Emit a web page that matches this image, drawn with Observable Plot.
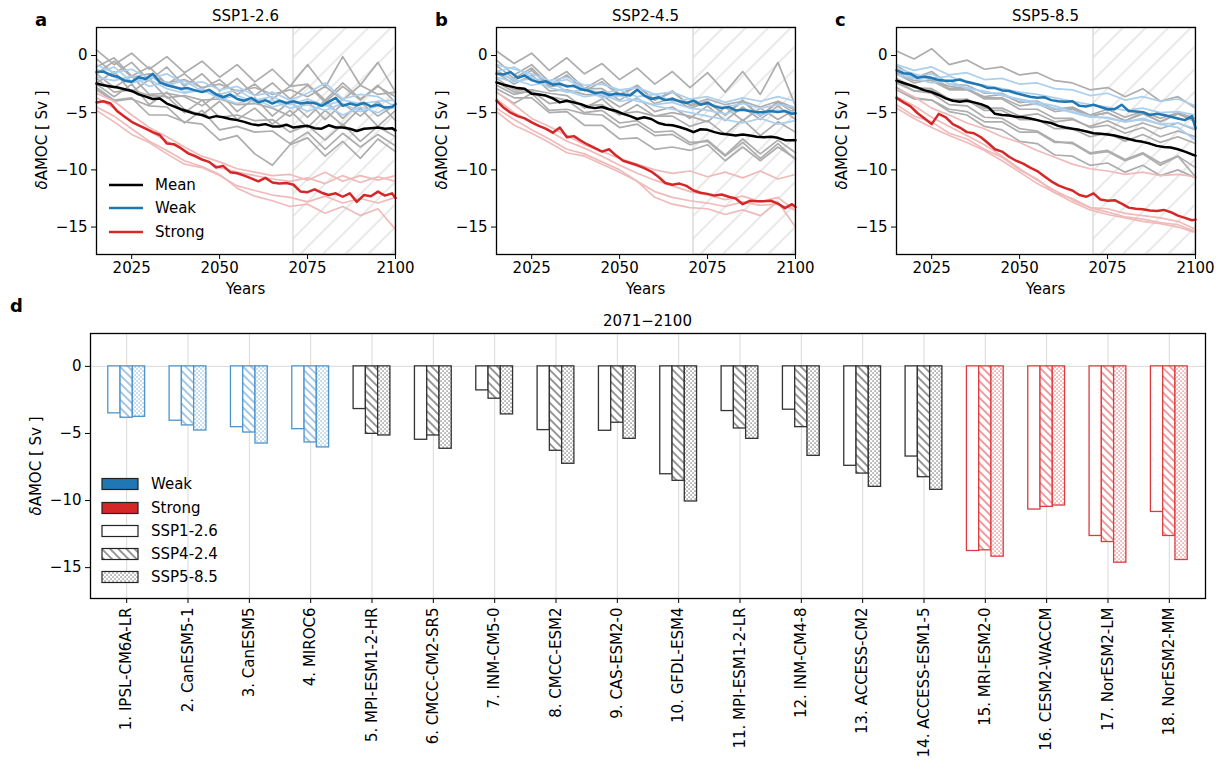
<!DOCTYPE html>
<html><head><meta charset="utf-8">
<script src="https://cdn.jsdelivr.net/npm/d3@7"></script>
<script src="https://cdn.jsdelivr.net/npm/@observablehq/plot@0.6"></script>
<style>
body{margin:0;background:#fff;}
#root{position:relative;width:1224px;height:769px;overflow:hidden;font-family:"DejaVu Sans",sans-serif;background:#fff;}
#root > div, #root > svg{position:absolute;}
</style></head><body><div id="root"></div>
<script>
// ---------------- DATA ----------------
const years5 = [2015,2020,2025,2030,2035,2040,2045,2050,2055,2060,2065,2070,2075,2080,2085,2090,2095,2100];
const years2 = [2015,2017,2019,2021,2023,2025,2027,2029,2031,2033,2035,
                2037,2039,2041,2043,2045,2047,2049,2051,2053,2055,2057,
                2059,2061,2063,2065,2067,2069,2071,2073,2075,2077,2079,
                2081,2083,2085,2087,2089,2091,2093,2095,2097,2099,2100];
const windowYears = [2071, 2100];
const scenarioTitles = ["SSP1-2.6", "SSP2-4.5", "SSP5-8.5"];
const panelLetters = ["a", "b", "c"];
const xTicksTop = [2025, 2050, 2075, 2100];
const yTicks = [0, -5, -10, -15];
const yDomainTop = [-17.4, 2.45];
const yDomainBar = [-17.3, 2.45];

// SSP1-2.6 individual models (5-year samples)
const ssp126Weak = [
  [-0.8,-1.5,-1.2,-2.0,-1.6,-2.5,-2.3,-3.0,-2.7,-3.5,-3.2,-3.9,-3.3,-2.4,-3.8,-3.4,-3.6,-4.5],
  [-1.5,-1.0,-2.3,-1.8,-2.6,-2.2,-3.1,-3.4,-3.0,-3.9,-3.6,-4.3,-3.8,-4.4,-3.9,-4.2,-4.0,-3.9],
  [-1.9,-2.2,-1.8,-2.7,-2.3,-3.2,-2.9,-3.8,-3.5,-4.1,-3.9,-4.6,-4.3,-4.8,-4.2,-4.9,-4.4,-4.6],
  [-1.2,-1.9,-2.4,-2.1,-2.9,-3.3,-3.0,-3.7,-4.2,-3.8,-4.5,-4.1,-4.9,-4.3,-5.2,-4.5,-5.0,-4.2]
];
const ssp126Other = [
  [-1.0,-0.2,-1.8,-1.0,-2.5,-1.6,-2.9,-2.1,-3.4,-2.5,-3.8,-2.7,-2.5,-3.9,-2.4,-3.8,-2.7,-3.6],
  [-2.5,-3.6,-2.5,-4.3,-3.2,-4.7,-5.2,-4.0,-5.6,-4.6,-6.0,-4.8,-6.3,-4.8,-6.1,-4.6,-6.2,-4.8],
  [0.5,-0.8,0.2,-1.2,-0.1,-1.5,-0.5,-1.9,-0.8,-2.3,-1.2,-2.7,-0.8,-2.8,-0.1,-2.6,-0.6,-3.2],
  [-1.6,-2.8,-1.8,-3.4,-3.3,-3.6,-4.4,-3.3,-4.9,-3.7,-5.3,-4.0,-5.4,-3.9,-5.5,-4.1,-5.3,-4.3],
  [-2.4,-1.4,-3.2,-2.1,-3.7,-3.5,-3.9,-3.8,-4.3,-4.2,-4.6,-5.3,-4.0,-5.6,-4.2,-5.3,-4.0,-5.7],
  [-2.8,-3.9,-3.7,-5.2,-5.2,-5.8,-6.0,-7.4,-7.0,-8.6,-9.6,-7.8,-7.2,-8.8,-7.5,-9.0,-7.3,-8.4],
  [-0.3,-1.6,-0.6,-2.2,-1.0,-2.7,-1.6,-3.1,-2.0,-3.5,-2.4,-3.8,-2.6,-4.1,-2.7,-3.9,-2.6,-4.1],
  [-1.6,-0.5,-1.9,-1.6,-2.4,-2.1,-2.8,-2.5,-3.1,-2.8,-3.4,-3.0,-3.6,-2.7,-3.9,-2.6,-3.4,-3.2],
  [-3.0,-4.0,-3.8,-4.4,-4.5,-5.9,-4.8,-6.5,-6.2,-6.7,-6.6,-7.7,-6.7,-8.2,-6.8,-8.0,-6.9,-7.9],
  [-2.0,-3.2,-3.0,-3.5,-3.6,-5.0,-3.9,-5.4,-5.2,-5.7,-5.6,-6.7,-6.1,-7.4,-6.0,-7.5,-6.2,-7.1]
];
const ssp126Strong = [
  [-4.5,-5.3,-6.4,-7.5,-8.3,-9.2,-9.7,-10.4,-11.6,-12.3,-12.7,-13.2,-13.0,-13.8,-13.2,-14.0,-13.4,-15.2],
  [-3.3,-4.0,-5.2,-6.3,-7.1,-8.0,-8.8,-9.3,-9.9,-10.2,-10.5,-10.4,-10.9,-10.2,-11.0,-10.5,-10.9,-10.5],
  [-4.8,-5.8,-6.9,-7.6,-8.6,-9.5,-9.8,-10.5,-11.4,-11.8,-12.2,-12.4,-12.8,-12.3,-12.9,-12.5,-12.9,-12.4],
  [-3.7,-4.6,-5.8,-6.6,-7.5,-8.3,-9.0,-9.8,-10.2,-10.5,-10.8,-11.0,-10.7,-11.2,-10.5,-11.1,-10.6,-11.0]
];
// SSP2-4.5
const ssp245Weak = [
  [-0.8,-1.2,-1.6,-2.2,-1.9,-2.6,-2.5,-3.0,-2.8,-3.4,-3.2,-3.8,-3.6,-4.1,-3.7,-4.0,-3.6,-4.0],
  [-1.4,-1.0,-1.9,-2.4,-2.1,-2.9,-3.3,-3.0,-3.6,-3.4,-4.0,-3.8,-4.3,-4.5,-4.2,-4.6,-4.3,-4.5],
  [-1.9,-2.3,-2.0,-2.8,-3.2,-3.0,-3.7,-3.5,-4.0,-4.3,-4.1,-4.6,-4.8,-5.1,-4.7,-5.2,-4.8,-5.0],
  [-1.5,-2.1,-2.6,-2.3,-3.1,-3.6,-3.4,-4.0,-3.8,-4.4,-4.7,-5.0,-5.3,-5.6,-5.9,-5.5,-6.0,-5.7]
];
const ssp245Other = [
  [-1.5,-2.5,-1.7,-3.1,-3.0,-3.4,-3.5,-4.5,-3.7,-4.9,-4.5,-5.5,-4.4,-5.7,-4.5,-5.6,-4.4,-5.6],
  [-2.6,-3.4,-3.1,-4.2,-4.0,-4.4,-4.3,-5.2,-4.3,-5.3,-5.0,-5.3,-5.8,-4.5,-5.7,-4.6,-5.6,-4.7],
  [0.4,-0.7,0.2,-1.3,-0.2,-1.6,-0.7,-2.1,-1.1,-2.5,-1.4,-2.8,-1.5,-3.2,-1.4,-3.4,-0.6,-4.4],
  [-2.0,-3.0,-3.0,-3.3,-3.5,-4.6,-3.8,-5.1,-4.9,-5.3,-5.3,-6.2,-5.7,-6.9,-5.6,-7.0,-5.8,-6.7],
  [-0.9,-2.0,-1.1,-2.6,-1.7,-3.1,-2.3,-3.5,-2.7,-3.9,-3.2,-4.3,-3.8,-4.3,-4.0,-4.5,-4.0,-4.6],
  [-2.9,-3.7,-3.7,-5.0,-4.9,-6.1,-6.1,-7.3,-7.2,-8.2,-8.0,-8.3,-7.8,-9.2,-8.0,-9.2,-8.0,-9.0],
  [-1.3,-2.2,-1.3,-2.7,-2.6,-2.9,-2.9,-3.9,-3.0,-4.2,-3.7,-4.6,-4.1,-5.2,-4.0,-5.3,-4.1,-5.1],
  [-0.4,-1.7,-0.8,-2.3,-1.4,-2.9,-2.0,-3.4,-2.6,-3.9,-3.1,-4.4,-4.0,-5.2,-3.9,-5.3,-4.0,-4.8],
  [-3.2,-4.2,-3.3,-4.8,-4.7,-5.1,-5.2,-6.3,-6.0,-7.0,-6.9,-7.8,-7.4,-8.7,-7.3,-8.6,-7.4,-8.5],
  [-2.3,-3.2,-3.2,-3.6,-3.9,-5.0,-4.8,-5.9,-5.7,-6.7,-6.6,-7.6,-7.5,-8.8,-7.6,-9.0,-7.7,-9.1]
];
const ssp245Strong = [
  [-4.6,-5.6,-6.5,-7.3,-8.2,-8.6,-9.3,-10.0,-11.0,-12.4,-13.0,-13.3,-13.4,-13.9,-13.5,-14.0,-12.8,-15.0],
  [-3.2,-4.3,-5.5,-6.2,-7.0,-7.8,-8.4,-9.0,-9.5,-10.0,-10.3,-10.1,-10.6,-10.2,-10.7,-10.1,-10.8,-10.4],
  [-4.9,-6.1,-6.8,-7.6,-8.5,-8.8,-9.5,-10.2,-11.0,-11.9,-12.4,-12.7,-12.9,-13.2,-12.8,-13.1,-13.0,-13.5],
  [-3.8,-5.0,-5.8,-6.6,-7.5,-8.1,-8.8,-9.6,-10.3,-10.9,-11.4,-11.9,-12.2,-12.6,-12.3,-12.8,-12.4,-13.6]
];
// SSP5-8.5
const ssp585Weak = [
  [-0.8,-1.3,-1.0,-1.7,-1.5,-2.1,-2.0,-2.5,-2.4,-2.9,-3.0,-3.5,-3.3,-3.9,-3.6,-4.0,-3.8,-4.4],
  [-1.1,-1.6,-2.0,-1.8,-2.4,-2.6,-2.9,-3.2,-3.4,-3.7,-4.0,-4.3,-4.5,-4.8,-4.6,-5.0,-4.9,-5.2],
  [-1.7,-2.0,-2.4,-2.2,-2.9,-3.1,-3.5,-3.8,-4.1,-4.4,-4.9,-5.3,-5.5,-5.8,-5.6,-6.0,-5.9,-6.4],
  [-1.4,-1.9,-1.6,-2.5,-2.8,-3.2,-3.4,-3.9,-4.3,-4.6,-5.0,-5.4,-5.4,-5.8,-5.5,-6.0,-6.3,-7.4]
];
const ssp585Other = [
  [-1.6,-2.4,-2.1,-2.7,-2.9,-3.6,-3.4,-4.1,-4.0,-4.7,-4.5,-5.2,-4.7,-5.4,-4.9,-5.5,-5.0,-5.5],
  [-2.4,-3.1,-3.0,-3.9,-3.8,-4.6,-4.6,-5.3,-5.1,-5.8,-5.6,-6.2,-5.7,-6.4,-5.9,-6.4,-5.9,-6.5],
  [0.4,-0.3,0.6,-0.8,-0.4,-1.2,-1.0,-1.7,-1.5,-2.2,-2.4,-3.0,-2.8,-3.6,-2.9,-4.0,-3.6,-4.6],
  [-2.0,-2.8,-2.9,-3.8,-3.9,-4.8,-4.8,-5.6,-5.6,-6.4,-6.4,-7.1,-6.8,-7.5,-6.9,-7.6,-7.1,-7.7],
  [-1.2,-2.0,-1.4,-2.5,-2.6,-3.3,-3.3,-4.1,-4.0,-4.7,-4.6,-5.3,-5.0,-5.7,-5.0,-5.8,-5.1,-5.8],
  [-2.8,-3.7,-3.9,-4.9,-5.2,-6.2,-6.5,-7.5,-7.7,-8.7,-8.8,-9.6,-9.4,-10.2,-9.6,-10.5,-10.0,-10.7],
  [-1.5,-2.2,-2.2,-3.0,-3.0,-3.7,-3.7,-4.4,-4.2,-4.9,-4.7,-5.3,-5.0,-5.7,-5.1,-5.8,-5.1,-5.7],
  [-0.9,-1.8,-2.0,-2.9,-2.9,-3.8,-3.8,-4.7,-4.7,-5.5,-5.5,-6.3,-6.1,-6.8,-6.3,-7.1,-6.6,-7.1],
  [-3.0,-3.8,-3.9,-4.7,-4.9,-5.8,-5.8,-6.7,-6.7,-7.6,-7.6,-8.5,-8.3,-9.1,-8.5,-9.4,-8.8,-9.8],
  [-2.2,-3.1,-3.3,-4.3,-4.4,-5.4,-5.5,-6.4,-6.6,-7.5,-7.7,-8.6,-8.4,-9.2,-8.6,-9.6,-8.8,-10.6]
];
const ssp585Strong = [
  [-4.3,-5.3,-5.8,-6.8,-7.3,-8.2,-8.9,-10.0,-10.8,-12.0,-12.5,-13.3,-13.4,-13.8,-14.0,-14.2,-14.5,-15.2],
  [-2.9,-3.6,-4.6,-5.2,-5.9,-6.4,-7.1,-7.6,-8.3,-8.9,-9.5,-9.9,-10.1,-10.4,-10.2,-10.5,-10.4,-10.6],
  [-4.6,-5.5,-6.3,-7.0,-7.6,-8.3,-9.2,-10.2,-11.2,-12.0,-12.8,-13.5,-13.9,-14.2,-14.5,-14.7,-15.0,-15.5],
  [-3.6,-4.4,-5.4,-6.2,-7.0,-7.8,-8.8,-9.9,-10.9,-11.8,-12.6,-13.3,-13.7,-14.1,-14.3,-14.6,-14.8,-15.4]
];

// Multi-model means (2-year samples)
const ssp126MeanAll = [-2.45,-2.6,-2.7,-2.8,-2.95,-3.1,-3.4,-3.6,-3.8,-3.75,-4.2,
  -4.45,-4.7,-4.9,-5.1,-5.2,-5.45,-5.3,-5.4,-5.55,-5.65,-5.8,
  -6.0,-6.1,-6.0,-6.2,-6.2,-6.05,-6.3,-6.2,-6.15,-6.35,-6.4,
  -6.1,-6.3,-6.3,-6.4,-6.6,-6.4,-6.35,-6.3,-6.4,-6.35,-6.55];
const ssp126MeanWeak = [-1.45,-1.4,-1.7,-1.85,-2.2,-2.3,-1.9,-2.05,-1.6,-2.35,-2.6,
  -2.75,-2.9,-2.85,-3.05,-3.2,-3.0,-3.4,-3.65,-3.4,-3.8,-3.95,
  -3.7,-4.1,-3.9,-4.2,-3.95,-4.15,-4.0,-4.2,-4.1,-4.15,-4.4,
  -4.05,-3.7,-4.4,-4.2,-4.35,-4.15,-4.45,-4.3,-4.55,-4.5,-4.25];
const ssp126MeanStrong = [-4.1,-4.0,-4.2,-4.9,-5.35,-5.8,-6.1,-6.4,-6.7,-6.95,-7.7,
  -7.75,-8.1,-8.55,-8.8,-9.1,-9.3,-9.8,-9.65,-10.2,-10.3,-10.5,
  -10.75,-11.0,-10.7,-11.1,-11.2,-11.15,-11.3,-11.9,-11.95,-11.7,-12.0,
  -12.2,-12.05,-12.35,-12.05,-12.8,-12.2,-12.3,-11.9,-12.25,-12.05,-12.45];
const ssp245MeanAll = [-2.35,-2.55,-2.7,-2.85,-2.9,-3.35,-3.4,-3.5,-3.75,-4.1,-3.95,
  -4.1,-4.25,-4.5,-4.6,-4.5,-4.7,-4.85,-5.1,-5.3,-5.55,-5.4,
  -5.55,-5.9,-6.05,-6.1,-6.25,-6.45,-6.7,-6.45,-6.5,-6.7,-6.85,
  -6.9,-7.0,-6.9,-7.0,-7.1,-7.15,-7.1,-7.2,-7.4,-7.4,-7.4];
const ssp245MeanWeak = [-1.6,-1.65,-1.45,-1.95,-1.75,-2.15,-2.35,-2.25,-2.55,-2.45,-2.7,
  -2.65,-2.95,-3.05,-3.3,-3.2,-3.45,-3.35,-3.4,-3.5,-3.0,-3.5,
  -3.8,-3.65,-3.9,-3.8,-4.0,-4.15,-3.95,-4.3,-4.15,-4.45,-4.6,
  -4.5,-4.8,-4.75,-4.85,-4.95,-4.95,-4.85,-4.95,-4.85,-5.1,-5.05];
const ssp245MeanStrong = [-3.95,-4.55,-5.0,-5.3,-5.5,-5.85,-6.15,-6.4,-6.75,-6.3,-7.15,
  -7.05,-7.45,-7.8,-8.1,-8.4,-8.2,-8.75,-9.2,-9.4,-9.6,-9.85,
  -10.15,-10.6,-11.15,-11.3,-11.2,-11.4,-11.8,-12.0,-12.1,-12.25,-12.15,
  -12.35,-12.5,-13.0,-12.7,-12.75,-12.75,-12.7,-12.95,-13.35,-13.0,-13.25];
const ssp585MeanAll = [-2.2,-2.4,-2.6,-2.8,-3.05,-3.2,-3.45,-3.75,-3.95,-4.05,-3.95,
  -4.1,-4.25,-4.5,-5.1,-5.2,-5.25,-5.35,-5.4,-5.5,-5.65,-5.8,
  -5.9,-6.15,-6.3,-6.4,-6.5,-6.65,-6.8,-6.85,-6.9,-7.0,-7.15,
  -7.3,-7.45,-7.55,-7.7,-7.9,-8.0,-8.05,-8.2,-8.4,-8.65,-8.75];
const ssp585MeanWeak = [-1.3,-1.55,-1.6,-1.95,-1.85,-1.95,-2.15,-2.2,-2.2,-2.1,-2.3,
  -2.45,-2.6,-2.85,-2.85,-3.05,-3.1,-3.3,-3.45,-3.6,-3.7,-3.65,
  -3.9,-4.0,-4.05,-4.0,-4.4,-4.45,-4.3,-4.5,-4.7,-4.7,-4.3,
  -4.85,-4.9,-4.95,-5.2,-5.1,-5.2,-5.35,-5.5,-5.65,-5.3,-6.35];
const ssp585MeanStrong = [-3.7,-4.1,-4.45,-5.05,-5.5,-6.0,-5.1,-5.4,-6.0,-6.3,-6.7,
  -6.8,-7.15,-7.65,-8.2,-8.4,-8.85,-9.2,-9.45,-9.8,-10.1,-10.55,
  -11.0,-11.35,-11.6,-11.8,-12.2,-12.35,-12.05,-12.6,-12.7,-12.65,-12.95,
  -13.3,-13.4,-13.45,-13.55,-13.6,-13.5,-13.7,-14.0,-14.2,-14.4,-14.35];

// Panel d: 2071-2100 mean per model
const modelNames = ["1. IPSL-CM6A-LR","2. CanESM5-1","3. CanESM5","4. MIROC6","5. MPI-ESM1-2-HR",
  "6. CMCC-CM2-SR5","7. INM-CM5-0","8. CMCC-ESM2","9. CAS-ESM2-0","10. GFDL-ESM4","11. MPI-ESM1-2-LR",
  "12. INM-CM4-8","13. ACCESS-CM2","14. ACCESS-ESM1-5","15. MRI-ESM2-0","16. CESM2-WACCM","17. NorESM2-LM","18. NorESM2-MM"];
const modelGroup = ["weak","weak","weak","weak","mean","mean","mean","mean","mean","mean","mean","mean","mean","mean","strong","strong","strong","strong"];
const barSSP126 = [-3.5,-4.05,-4.53,-4.68,-3.18,-5.47,-1.79,-4.75,-4.8,-8.04,-3.33,-3.23,-7.41,-6.72,-13.76,-10.67,-12.64,-10.85];
const barSSP245 = [-3.83,-4.4,-4.93,-5.67,-5.03,-5.15,-2.41,-6.29,-4.2,-8.53,-4.63,-4.53,-7.99,-8.26,-13.71,-10.47,-13.09,-12.64];
const barSSP585 = [-3.76,-4.78,-5.75,-6.04,-5.15,-6.14,-3.58,-7.26,-5.4,-10.07,-5.4,-6.67,-8.98,-9.2,-14.18,-10.37,-14.63,-14.43];
const barLegend = ["Weak","Strong","SSP1-2.6","SSP4-2.4","SSP5-8.5"];
const lineLegend = ["Mean","Weak","Strong"];

// ---------------- STYLE ----------------
const C = {gray:"#adadad", lblue:"#abcfee", lred:"#f0baba", blue:"#1f77b4", red:"#d62728", black:"#000"};
const groupEdge = {weak:"#4d93cc", mean:"#333333", strong:"#e03a3e"};
const font = "'DejaVu Sans', sans-serif";
const FS = 15;

const root = document.getElementById("root");
let pat = `<svg width="0" height="0" style="position:absolute;left:0;top:0"><defs>
<pattern id="hatchTop" patternUnits="userSpaceOnUse" width="16" height="16" patternTransform="rotate(45)">
<rect width="16" height="16" fill="white"/><line x1="8" y1="-1" x2="8" y2="17" stroke="#d3d3d3" stroke-width="1"/></pattern>`;
for (const [k, c] of Object.entries(groupEdge)) {
  pat += `<pattern id="hatch-${k}" patternUnits="userSpaceOnUse" width="5.8" height="5.8" patternTransform="rotate(-45)">
<rect width="5.8" height="5.8" fill="white"/><line x1="2.9" y1="-1" x2="2.9" y2="7" stroke="${c}" stroke-width="1"/></pattern>
<pattern id="dots-${k}" patternUnits="userSpaceOnUse" width="4" height="4">
<rect width="4" height="4" fill="white"/><rect x="0.5" y="0.5" width="1.1" height="1.1" fill="${c}"/><rect x="2.5" y="2.5" width="1.1" height="1.1" fill="${c}"/></pattern>`;
}
pat += `</defs></svg>`;
root.insertAdjacentHTML("beforeend", pat);

function toRows(arrs, years, prefix) {
  return arrs.flatMap((arr, k) => arr.map((v, j) => ({year: years[j], value: v, id: prefix + k})));
}
function meanRows(arr) { return arr.map((v, j) => ({year: years2[j], value: v})); }

const scen = [
  {weak: ssp126Weak, other: ssp126Other, strong: ssp126Strong, mAll: ssp126MeanAll, mWeak: ssp126MeanWeak, mStrong: ssp126MeanStrong},
  {weak: ssp245Weak, other: ssp245Other, strong: ssp245Strong, mAll: ssp245MeanAll, mWeak: ssp245MeanWeak, mStrong: ssp245MeanStrong},
  {weak: ssp585Weak, other: ssp585Other, strong: ssp585Strong, mAll: ssp585MeanAll, mWeak: ssp585MeanWeak, mStrong: ssp585MeanStrong}
];

scen.forEach((s, p) => {
  const chart = Plot.plot({
    width: 410, height: 300, marginLeft: 96, marginRight: 15, marginTop: 27, marginBottom: 46,
    style: {fontFamily: font, fontSize: FS + "px", color: "black", background: "transparent", overflow: "visible"},
    x: {domain: [2015, 2100]},
    y: {domain: yDomainTop},
    marks: [
      Plot.rect([windowYears], {x1: d => d[0], x2: d => d[1], y1: yDomainTop[0], y2: yDomainTop[1], fill: "url(#hatchTop)", stroke: "#d5d5d5", strokeWidth: 1.3}),
      Plot.line(toRows(s.other, years5, "o"), {x: "year", y: "value", z: "id", stroke: C.gray, strokeWidth: 1.7}),
      Plot.line(toRows(s.weak, years5, "w"), {x: "year", y: "value", z: "id", stroke: C.lblue, strokeWidth: 1.7}),
      Plot.line(toRows(s.strong, years5, "s"), {x: "year", y: "value", z: "id", stroke: C.lred, strokeWidth: 1.7}),
      Plot.line(meanRows(s.mAll), {x: "year", y: "value", stroke: C.black, strokeWidth: 2.5}),
      Plot.line(meanRows(s.mWeak), {x: "year", y: "value", stroke: C.blue, strokeWidth: 2.5}),
      Plot.line(meanRows(s.mStrong), {x: "year", y: "value", stroke: C.red, strokeWidth: 2.5}),
      Plot.axisX({ticks: xTicksTop, tickFormat: d => String(d), tickSize: 5, tickPadding: 3, label: null}),
      Plot.axisY({ticks: yTicks, tickFormat: d3.format("d"), tickSize: 5, tickPadding: 4, label: null}),
      Plot.frame({stroke: "black", strokeWidth: 1.3})
    ]
  });
  const div = document.createElement("div");
  div.style.left = (p * 400) + "px"; div.style.top = "0px";
  div.appendChild(chart);
  root.appendChild(div);
});

// bar chart
const scenBars = [barSSP126, barSSP245, barSSP585];
const modelIndex = modelNames.map((_, i) => i);
const barRows = [];
modelNames.forEach((name, i) => {
  scenBars.forEach((arr, s) => {
    const g = modelGroup[i];
    barRows.push({i, s, v: arr[i], stroke: groupEdge[g],
      fill: s === 0 ? "white" : s === 1 ? `url(#hatch-${g})` : `url(#dots-${g})`});
  });
});
const bar = Plot.plot({
  width: 1224, height: 469, marginLeft: 90, marginRight: 19, marginTop: 33, marginBottom: 171,
  style: {fontFamily: font, fontSize: FS + "px", color: "black", background: "transparent", overflow: "visible"},
  x: {domain: [-0.59, 17.59]},
  y: {domain: yDomainBar},
  color: {type: "identity"},
  marks: [
    Plot.ruleX(modelIndex, {stroke: "#dadada", strokeWidth: 1}),
    Plot.ruleY([0], {stroke: "#dadada", strokeWidth: 1}),
    Plot.rect(barRows, {x1: d => d.i + (d.s - 1) * 0.2 - 0.1, x2: d => d.i + (d.s - 1) * 0.2 + 0.1, y1: 0, y2: "v", fill: "fill", stroke: "stroke", strokeWidth: 1.3}),
    Plot.axisX({ticks: modelIndex, tickFormat: i => modelNames[i], tickRotate: -90, tickSize: 5, tickPadding: 4, label: null}),
    Plot.axisY({ticks: yTicks, tickFormat: d3.format("d"), tickSize: 5, tickPadding: 4, label: null}),
    Plot.frame({stroke: "black", strokeWidth: 1.3})
  ]
});
const bdiv = document.createElement("div");
bdiv.style.left = "0px"; bdiv.style.top = "300px";
bdiv.appendChild(bar);
root.appendChild(bdiv);

// overlay text, titles and legends
const ylab = (x, y) => `<text transform="translate(${x},${y}) rotate(-90)" text-anchor="middle" dominant-baseline="central" font-size="${FS}"><tspan font-style="italic">δ</tspan>AMOC [ Sv ]</text>`;
let ov = `<svg width="1224" height="769" style="position:absolute;left:0;top:0;pointer-events:none" font-family="DejaVu Sans, sans-serif" fill="black">`;
const letterX = [35, 435, 835];
scen.forEach((s, p) => {
  const cx = p * 400 + 96 + 149.5;
  ov += `<text x="${letterX[p]}" y="26" font-size="18" font-weight="bold">${panelLetters[p]}</text>`;
  ov += `<text x="${cx}" y="21" font-size="${FS}" text-anchor="middle">${scenarioTitles[p]}</text>`;
  ov += `<text x="${cx}" y="294" font-size="${FS}" text-anchor="middle">Years</text>`;
  ov += ylab(p * 400 + 42, 140);
});
const llColors = [C.black, C.blue, C.red];
const llY = [185, 208, 232];
lineLegend.forEach((t, k) => {
  ov += `<line x1="109" x2="143" y1="${llY[k]}" y2="${llY[k]}" stroke="${llColors[k]}" stroke-width="2.5"/>`;
  ov += `<text x="155" y="${llY[k]}" font-size="${FS}" dominant-baseline="central">${t}</text>`;
});
ov += `<text x="10" y="312" font-size="18" font-weight="bold">d</text>`;
ov += `<text x="647.5" y="326" font-size="${FS}" text-anchor="middle">2071−2100</text>`;
ov += ylab(36, 466);
const blFill = [C.blue, C.red, "white", "url(#hatch-mean)", "url(#dots-mean)"];
const blY = [484, 508, 531, 554, 577];
barLegend.forEach((t, k) => {
  ov += `<rect x="102" y="${blY[k] - 5.5}" width="36" height="11" fill="${blFill[k]}" stroke="#222" stroke-width="1.2"/>`;
  ov += `<text x="151" y="${blY[k]}" font-size="${FS}" dominant-baseline="central">${t}</text>`;
});
ov += `</svg>`;
root.insertAdjacentHTML("beforeend", ov);
</script></body></html>
